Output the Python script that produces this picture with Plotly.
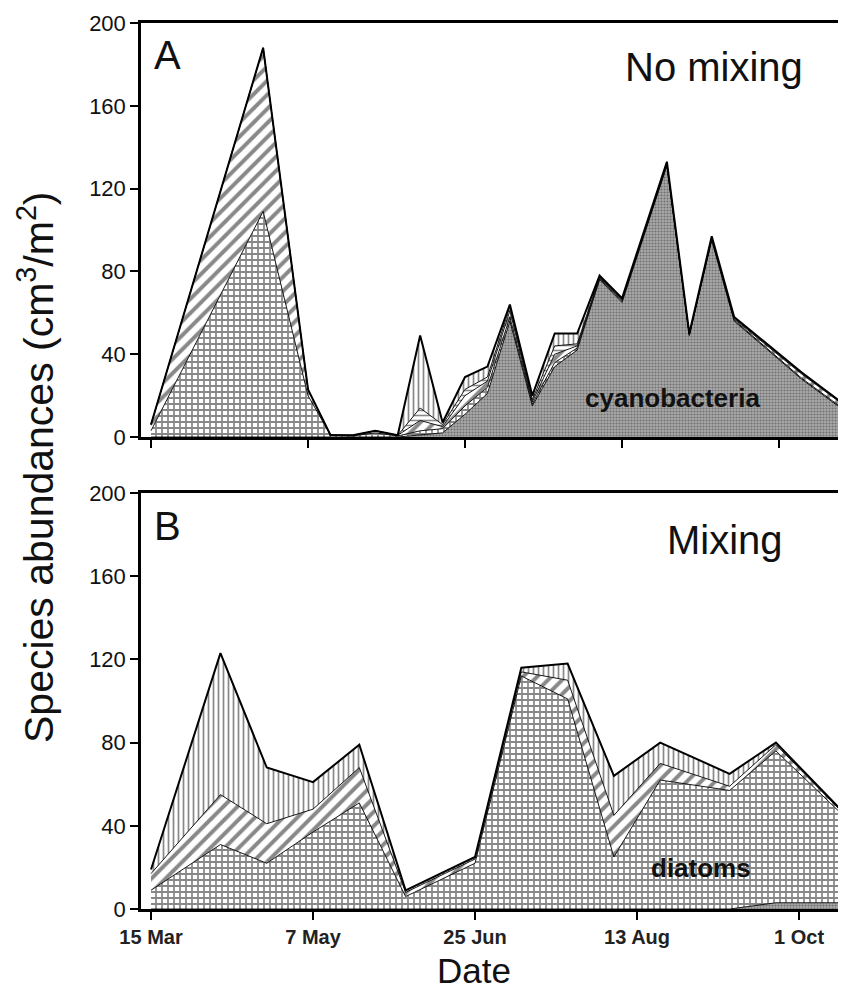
import plotly.graph_objects as go

# ---------------- data (days after 15 March) ----------------
A_days = [0, 35, 49, 56, 63, 70, 77, 84, 91, 98, 105, 112, 119, 126, 133, 140, 147, 161, 168, 175, 182, 203, 217]
A_cyano = [0, 0, 0, 0, 0, 0, 0, 1, 2, 11, 21, 56, 15, 34, 42, 76, 65, 131, 49, 95, 56, 28, 12]
A_diatoms = [3, 109, 20, 1, 0.5, 2, 0.5, 2, 2, 4, 3, 2, 1, 2, 1, 0.5, 0.5, 0.5, 0.3, 0.5, 0.5, 0.5, 0.5]
A_sp3 = [3, 79, 3, 0, 0.3, 1, 0.3, 5, 1, 5, 3, 3, 1, 4, 1, 0.5, 0.5, 0.5, 0.3, 0.5, 0.5, 2, 2]
A_sp4 = [0, 0, 0, 0, 0, 0, 0, 6, 1, 3, 2, 2, 1, 4, 1, 0.5, 0.5, 0.5, 0.2, 0.5, 0.5, 0.5, 0.3]
A_sp5 = [0, 0, 0, 0, 0, 0, 0, 35, 1, 6, 5, 1, 2, 6, 5, 0.5, 0.5, 0.5, 0.2, 0.5, 0.5, 0.3, 0.2]

B_days = [0, 21, 35, 49, 63, 77, 98, 112, 126, 140, 154, 175, 189, 210]
B_cyano = [0, 0, 0, 0, 0, 0, 0, 0, 0, 0, 0, 0, 3, 3]
B_diatoms = [9, 31, 22, 37, 51, 6, 22, 112, 101, 25, 62, 57, 73, 41]
B_sp3 = [8, 24, 19, 11, 17, 2, 2, 2, 9, 20, 8, 2, 3, 1]
B_sp5 = [2, 68, 27, 13, 11, 1, 1, 2, 8, 19, 10, 6, 1, 0.5]

tick_vals = [0, 49, 98, 147, 196]
tick_text = ["15 Mar", "7 May", "25 Jun", "13 Aug", "1 Oct"]
y_ticks = [0, 40, 80, 120, 160, 200]

FONT = "Liberation Sans"

patterns = {
    "cyano": dict(shape=".", size=3, solidity=0.4, fgcolor="#333333", bgcolor="#aaaaaa"),
    "diatoms": dict(shape="+", size=6, solidity=0.5, fgcolor="#111111", bgcolor="white"),
    "sp3": dict(shape="/", size=10, solidity=0.4, fgcolor="#111111", bgcolor="white"),
    "sp4": dict(shape="-", size=5, solidity=0.32, fgcolor="#111111", bgcolor="white"),
    "sp5": dict(shape="|", size=5, solidity=0.34, fgcolor="#111111", bgcolor="white"),
}

fig = go.Figure()

def add_layers(days, layers, xa, ya, group):
    n = len(layers)
    for i, (key, vals) in enumerate(layers):
        top = i == n - 1
        fig.add_trace(go.Scatter(
            x=days, y=vals, mode="lines", stackgroup=group,
            line=dict(color="black", width=2 if top else 0.9),
            fillpattern=patterns[key],
            fillcolor=patterns[key]["bgcolor"],
            xaxis=xa, yaxis=ya, showlegend=False, hoverinfo="skip",
        ))

add_layers(A_days, [("cyano", A_cyano), ("diatoms", A_diatoms), ("sp3", A_sp3),
                    ("sp4", A_sp4), ("sp5", A_sp5)], "x", "y", "A")
add_layers(B_days, [("cyano", B_cyano), ("diatoms", B_diatoms), ("sp3", B_sp3),
                    ("sp5", B_sp5)], "x2", "y2", "B")

# page has an 8px body margin: figure is sized so that nothing scrolls
OFF = 8
W, H = 838, 983
ML, MR, MT, MB = 141 - OFF, 0, 23 - OFF, H - (909 - OFF)
PW, PH = W - ML - MR, H - MT - MB

def py(p):
    # p: page pixel y
    return (H - MB - (p - OFF)) / PH

def px(p):
    return (p - OFF - ML) / PW

axis_common = dict(showline=True, linecolor="black", linewidth=2.5, ticks="outside",
                   ticklen=8, tickwidth=1.5, tickcolor="black", showgrid=False, zeroline=False)

fig.update_layout(
    width=W, height=H, margin=dict(l=ML, r=MR, t=MT, b=MB, autoexpand=False),
    plot_bgcolor="white", paper_bgcolor="white",
    font=dict(family=FONT, color="#111111"),
    xaxis=dict(**axis_common, mirror=True, domain=[0, 1], range=[-3.12, 216.9],
               tickvals=tick_vals, showticklabels=False, anchor="y"),
    yaxis=dict(**axis_common, mirror=False, domain=[py(437), 1], range=[0, 200],
               tickvals=y_ticks, tickfont=dict(size=22, family=FONT, color="#111"), anchor="x"),
    xaxis2=dict(**axis_common, mirror=True, domain=[0, 1], range=[-3.03, 210.2],
                tickvals=tick_vals, ticktext=["<b>%s</b>" % t for t in tick_text],
                tickfont=dict(size=20, family=FONT, color="#222"), anchor="y2"),
    yaxis2=dict(**axis_common, mirror=False, domain=[0, py(493)], range=[0, 200],
                tickvals=y_ticks, tickfont=dict(size=22, family=FONT, color="#111"), anchor="x2"),
)

def ann(text, x, y, size, bold=False, angle=0):
    fig.add_annotation(text=f"<b>{text}</b>" if bold else text,
                       xref="paper", yref="paper", x=px(x), y=py(y),
                       xanchor="center", yanchor="middle", showarrow=False,
                       textangle=angle, font=dict(size=size, family=FONT, color="#111"))

ann("A", 167, 55, 40)
ann("No mixing", 714, 67, 40)
ann("B", 167, 526, 40)
ann("Mixing", 725, 540, 40)
ann("cyanobacteria", 672, 398, 26, bold=True)
ann("diatoms", 701, 868, 26, bold=True)
ann("Date", 474, 970, 35)
ann("Species abundances (cm<sup>3</sup>/m<sup>2</sup>)", 36, 467, 41, angle=-90)

fig.write_html("out.html")
